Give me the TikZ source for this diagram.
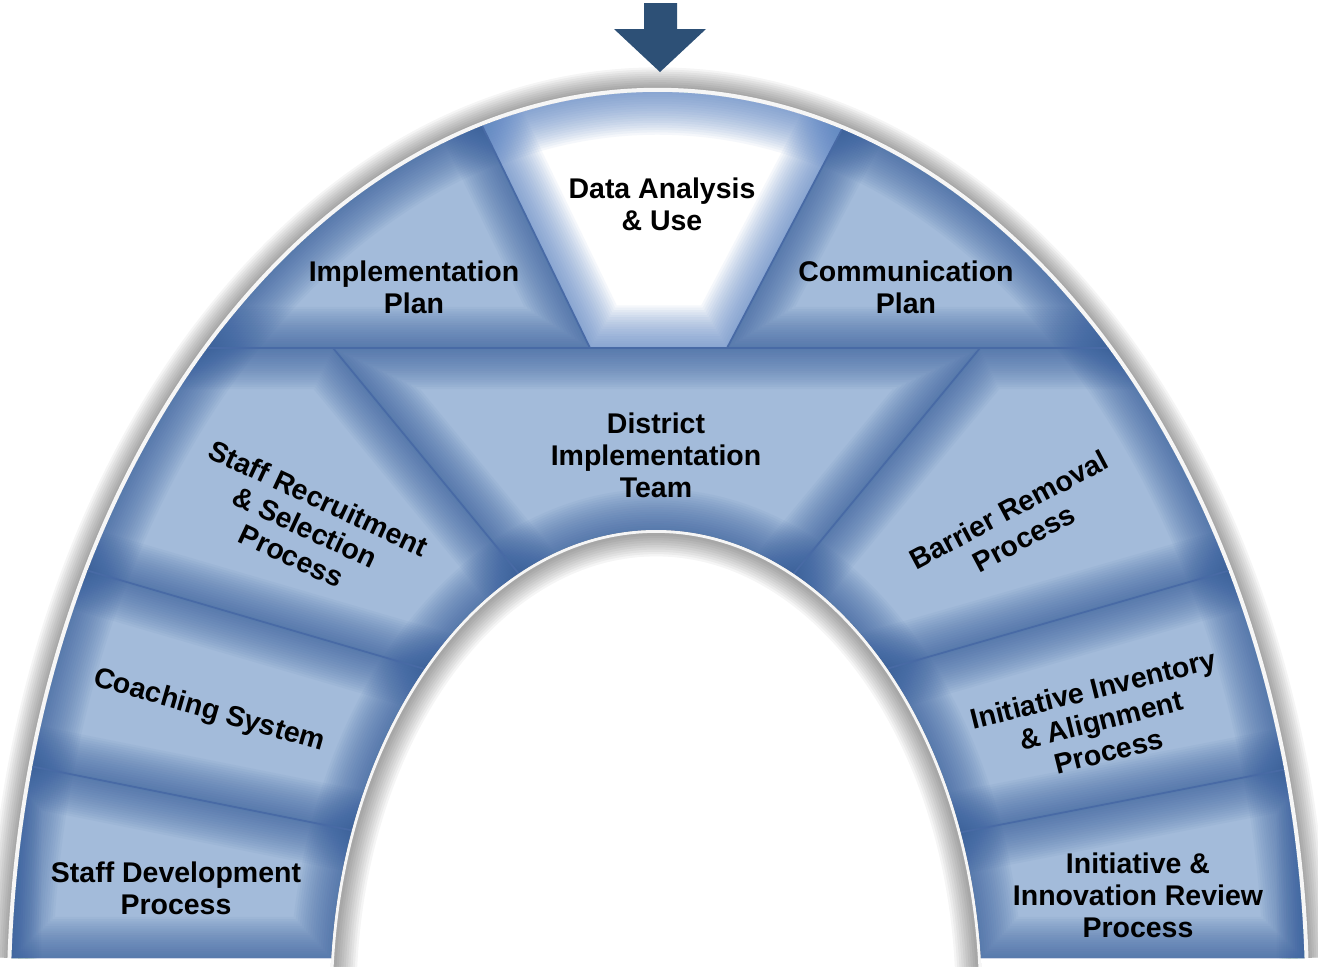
\documentclass[tikz,border=0pt]{standalone}
\usepackage{fontspec}
\setmainfont{Liberation Sans}
\definecolor{blockc}{RGB}{163,187,218}
\definecolor{edgec}{RGB}{52,92,155}
\definecolor{dataedge}{RGB}{88,130,195}
\definecolor{seamc}{RGB}{72,106,165}
\definecolor{arrowc}{RGB}{45,80,118}
\tikzset{
  lbl/.style={font=\fontsize{8.1}{9.1}\selectfont\bfseries, align=center, inner sep=0pt, text=black},
  seam/.style={draw=seamc, line width=0.5pt}
}
\def\archpath{(11.7,-958) arc[start angle=177.349, end angle=2.651, x radius=647, y radius=908] -- (980.7,-958) arc[start angle=5.127, end angle=174.873, x radius=326, y radius=470] -- cycle}
\def\outerarc{(11.7,-958) arc[start angle=177.349, end angle=2.651, x radius=647, y radius=908]}
\def\pImpl{(0,-348) -- (590,-348) -- (421,0) -- (0,0) -- cycle}
\def\pData{(421,0) -- (590,-348) -- (727,-348) -- (910,0) -- cycle}
\def\pComm{(910,0) -- (727,-348) -- (1318,-348) -- (1318,0) -- cycle}
\def\pDist{(333,-348) -- (980,-348) -- (705,-681) -- (603,-676) -- cycle}
\def\pRec{(0,-348) -- (333,-348) -- (603,-676) -- (500,-691) -- (0,-545) -- cycle}
\def\pCoach{(0,-545) -- (500,-691) -- (450,-850) -- (0,-760) -- cycle}
\def\pDev{(0,-760) -- (450,-850) -- (450,-1000) -- (0,-1000) -- cycle}
\def\pBar{(980,-348) -- (1318,-348) -- (1318,-545) -- (820,-688) -- (705,-681) -- cycle}
\def\pInv{(1318,-545) -- (820,-688) -- (870,-850) -- (1318,-763) -- cycle}
\def\pRev{(1318,-763) -- (870,-850) -- (870,-1000) -- (1318,-1000) -- cycle}
\newcommand\bluepiece[1]{%
  \begin{scope}
    \clip \archpath;
    \clip #1;
    \fill[blockc] #1;
    \foreach \i in {1,...,18}{
      \draw[edgec, line width=1.3*\i pt, opacity=0.05] #1;
      \draw[edgec, line width=1.3*\i pt, opacity=0.05] \archpath;
    }
  \end{scope}}
\newcommand\whitepiece[1]{%
  \begin{scope}
    \clip \archpath;
    \clip #1;
    \fill[white] #1;
    \foreach \i in {1,...,18}{
      \draw[dataedge, line width=1.35*\i pt, opacity=0.06] #1;
      \draw[dataedge, line width=1.35*\i pt, opacity=0.06] \archpath;
    }
  \end{scope}}
\begin{document}
\begin{tikzpicture}[x=0.01cm, y=0.01cm]
\useasboundingbox (0,0) rectangle (1318,-966);
\fill[white] (0,0) rectangle (1318,-966);
% outer shadow
\foreach \i in {1,...,10}{
  \draw[black, opacity=0.04, line width=1.2*\i pt+2pt] \outerarc;
}
\draw[white, line width=2.4pt, opacity=0.9] \outerarc;
% blocks
\bluepiece{\pImpl}
\whitepiece{\pData}
\bluepiece{\pComm}
\bluepiece{\pDist}
\bluepiece{\pRec}
\bluepiece{\pCoach}
\bluepiece{\pDev}
\bluepiece{\pBar}
\bluepiece{\pInv}
\bluepiece{\pRev}
% seams
\begin{scope}
  \clip \archpath;
  \draw[seam] (0,-348) -- (1318,-348);
  \draw[seam] (421,0) -- (590,-348);
  \draw[seam] (910,0) -- (727,-348);
  \draw[seam] (333,-348) -- (603,-676);
  \draw[seam] (980,-348) -- (705,-681);
  \draw[seam] (0,-545) -- (500,-691);
  \draw[seam] (0,-760) -- (450,-850);
  \draw[seam] (1318,-545) -- (820,-688);
  \draw[seam] (1318,-763) -- (870,-850);
\end{scope}
% inner hole shadow
\begin{scope}
  \clip (656,-1000) ellipse [x radius=326, y radius=470];
  \foreach \i in {1,...,10}{
    \draw[black, opacity=0.04, line width=1.3*\i pt+2pt] (656,-1000) ellipse [x radius=326, y radius=470];
  }
  \draw[white, line width=1.6pt, opacity=0.9] (656,-1000) ellipse [x radius=326, y radius=470];
\end{scope}
% arrow
\fill[arrowc] (644,-3) -- (677,-3) -- (677,-29) -- (706,-29) -- (660,-72) -- (614,-29) -- (644,-29) -- cycle;
% labels
\node[lbl] (data) at (662,-204) {Data Analysis\\\& Use};
\node[lbl] (impl) at (414,-287) {Implementation\\Plan};
\node[lbl] (comm) at (906,-287) {Communication\\Plan};
\node[lbl] (dist) at (656,-455) {District\\Implementation\\Team};
\node[lbl, rotate=-25] (rec) at (305,-527) {Staff Recruitment\\\& Selection\\Process};
\node[lbl, rotate=-16] (coach) at (209,-711) {Coaching System};
\node[lbl] (dev) at (176,-888) {Staff Development\\Process};
\node[lbl, rotate=28] (bar) at (1016,-524) {Barrier Removal\\Process};
\node[lbl, rotate=14] (inv) at (1101,-720) {Initiative Inventory\\\& Alignment\\Process};
\node[lbl] (rev) at (1138,-895) {Initiative \&\\Innovation Review\\Process};
\end{tikzpicture}
\end{document}
